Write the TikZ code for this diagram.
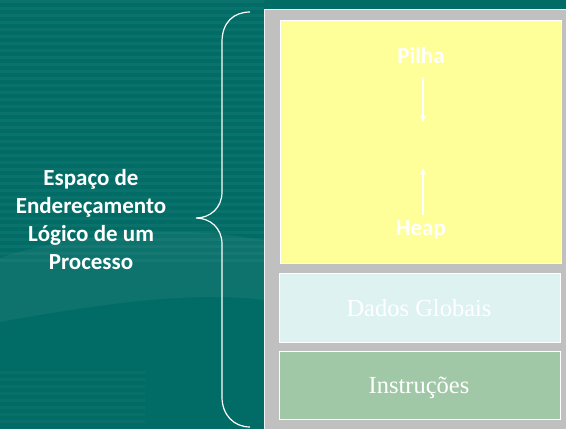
\documentclass[tikz,border=0pt]{standalone}
\usepackage{fontspec}
\newfontfamily\calibri{Carlito}
\newfontfamily\serifa{Liberation Serif}
\usetikzlibrary{arrows.meta}
\definecolor{fundo}{RGB}{0,108,101}
\definecolor{painel}{RGB}{192,192,192}
\definecolor{amarelo}{RGB}{255,255,153}
\definecolor{ciano}{RGB}{222,242,242}
\definecolor{verde}{RGB}{160,200,166}
\tikzset{
  caixa/.style={draw=white, line width=0.8pt, minimum width=281pt, anchor=north west, inner sep=0pt},
  rotulo/.style={text=white, font=\calibri\bfseries\fontsize{23}{28}\selectfont},
  textoserif/.style={text=white, font=\serifa\fontsize{24.5}{28}\selectfont},
  seta/.style={white, line width=1.2pt, -{Stealth[length=7pt,width=6pt]}}
}

\begin{document}
\begin{tikzpicture}[x=1pt,y=-1pt]
    \useasboundingbox (0,0) rectangle (566,429);
    \fill[fundo] (0,0) rectangle (566,429);
    % listras do fundo
    \foreach \y in {0,7,...,259}
        \fill[white,opacity=0.04] (0,\y) rectangle (264,\y+3);
    \foreach \y in {371,378,...,420}
        \fill[white,opacity=0.03] (0,\y) rectangle (145,\y+3);
    \fill[white,opacity=0.05] (0,258) .. controls (60,238) and (120,232) .. (180,232)
        .. controls (220,232) and (245,238) .. (264,240) -- (264,300)
        .. controls (200,292) and (120,300) .. (0,322) -- cycle;
    % painel cinza
    \filldraw[fill=painel, draw=white!80!painel, line width=0.8pt] (264,9) rectangle (570,433);
    \node[caixa, fill=amarelo, minimum height=243pt] (livre) at (280,20) {};
    \node[caixa, fill=ciano, minimum height=69pt] (dados) at (279,273) {};
    \node[caixa, fill=verde, minimum height=68pt] (instr) at (279,351) {};
    \node[textoserif, anchor=base] (tdados) at (419,316) {Dados Globais};
    \node[textoserif, anchor=base] (tinstr) at (419,393) {Instruções};
    % pilha e heap
    \node[rotulo, anchor=base] (pilha) at (421,63) {Pilha};
    \node[rotulo, anchor=base] (heap) at (421,235) {Heap};
    \coordinate (fimpilha) at (423,122);
    \coordinate (fimheap) at (423,168);
    \draw[seta, shorten <=10pt] (pilha.south -| fimpilha) -- (fimpilha);
    \draw[seta, shorten <=2pt] (heap.north -| fimheap) -- (fimheap);
    % chave e texto
    \draw[white, line width=1.2pt] (250,12) .. controls (234,12) and (222,22) .. (222,42) -- (222,192)
        .. controls (222,208) and (210,218) .. (196,218) .. controls (210,218) and (222,228) .. (222,244)
        -- (222,397) .. controls (222,415) and (234,427) .. (250,427);
    \node[rotulo, align=center] (espaco) at (91,220) {Espaço de\\Endereçamento\\Lógico de um\\Processo};
\end{tikzpicture}
\end{document}
